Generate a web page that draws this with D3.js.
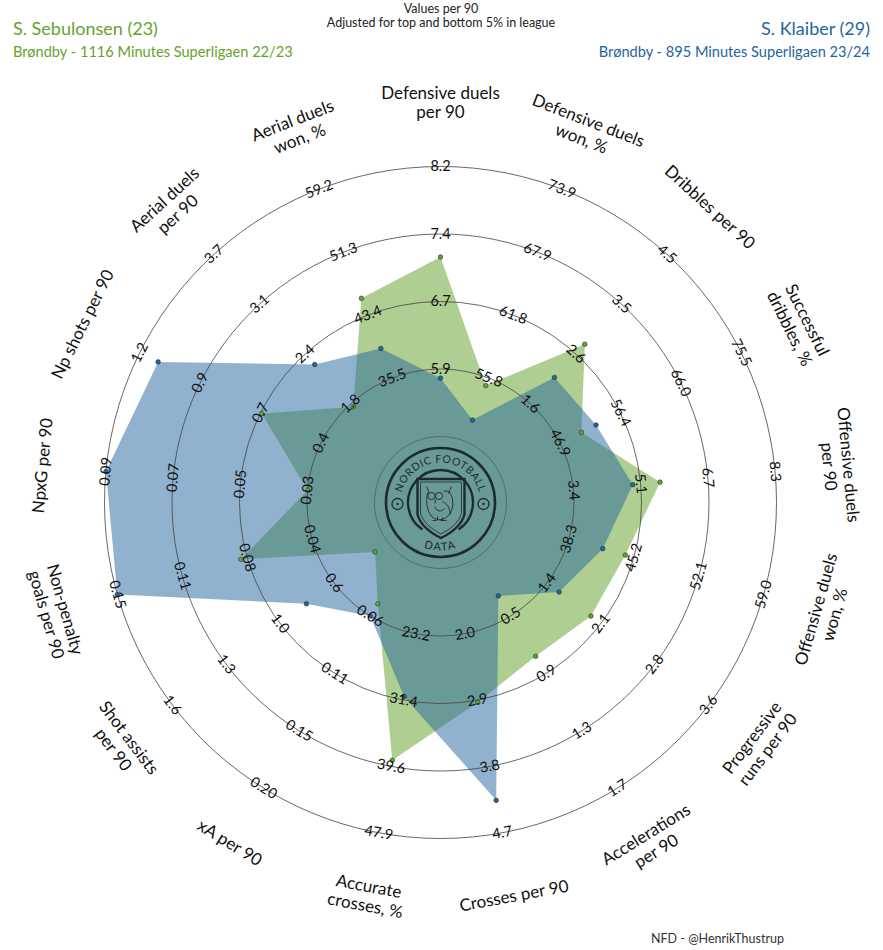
<!DOCTYPE html>
<html>
<head>
<meta charset="utf-8">
<script src="https://cdn.jsdelivr.net/npm/d3@7"></script>
<style>
  body { margin: 0; background: #fff; }
  svg { display: block; font-family: Lato, "Open Sans", sans-serif; }
</style>
</head>
<body>
<div id="chart"></div>
<script>
// chart size
const w = 883;
const h = 950;
const cx = 440.5;
const cy = 502.5;
const rInner = 66;
const rOuter = 336;
const rLabel = 400;

// parameters, clockwise from the top
const params = [
  'Defensive duels\nper 90', 'Defensive duels\nwon, %', 'Dribbles per 90', 'Successful\ndribbles, %',
  'Offensive duels\nper 90', 'Offensive duels\nwon, %', 'Progressive\nruns per 90', 'Accelerations\nper 90',
  'Crosses per 90', 'Accurate\ncrosses, %', 'xA per 90', 'Shot assists\nper 90',
  'Non-penalty\ngoals per 90', 'NpxG per 90', 'Np shots per 90', 'Aerial duels\nper 90', 'Aerial duels\nwon, %'
];
// bottom and top of each axis (5% / 95% in league)
const lows = [5.1, 49.8, 0.6, 37.4, 1.8, 31.4, 0.65, 0.1, 1.1, 14.95, 0.012, 0.28, 0.005, 0.01, 0.15, 1.15, 27.6];
const highs = [8.2, 73.9, 4.5, 75.5, 8.3, 59.0, 3.56, 1.7, 4.7, 47.9, 0.2, 1.63, 0.15, 0.09, 1.2, 3.7, 59.2];
// ring labels for each axis (rings 1..4)
const tickLabels = [
  ['5.9', '6.7', '7.4', '8.2'], ['55.8', '61.8', '67.9', '73.9'], ['1.6', '2.6', '3.5', '4.5'],
  ['46.9', '56.4', '66.0', '75.5'], ['3.4', '5.1', '6.7', '8.3'], ['38.3', '45.2', '52.1', '59.0'],
  ['1.4', '2.1', '2.8', '3.6'], ['0.5', '0.9', '1.3', '1.7'], ['2.0', '2.9', '3.8', '4.7'],
  ['23.2', '31.4', '39.6', '47.9'], ['0.06', '0.11', '0.15', '0.20'], ['0.6', '1.0', '1.3', '1.6'],
  ['0.04', '0.08', '0.11', '0.15'], ['0.03', '0.05', '0.07', '0.09'], ['0.4', '0.7', '0.9', '1.2'],
  ['1.8', '2.4', '3.1', '3.7'], ['35.5', '43.4', '51.3', '59.2']
];
// player values
const sebulonsen = [7.16, 55.1, 2.74, 50.3, 5.52, 44.3, 1.97, 0.78, 2.93, 38.9, 0.049, 0.36, 0.081, 0.03, 0.67, 1.75, 45.5];
const klaiber = [5.77, 51.8, 2.09, 52.6, 4.86, 41.9, 1.54, 0.36, 4.26, 31.0, 0.059, 0.79, 0.15, 0.09, 1.12, 2.29, 39.2];

const green = '#66a22c';
const blue = '#24659f';

const n = params.length;
const angle = i => i * 2 * Math.PI / n;
// one radial scale per axis
const scales = lows.map((lo, i) => d3.scaleLinear().domain([lo, highs[i]]).range([rInner, rOuter]).clamp(true));
const ringScale = d3.scaleLinear().domain([0, 4]).range([rInner, rOuter]);
const px = (r, a) => r * Math.sin(a);
const py = (r, a) => -r * Math.cos(a);
// keep text readable: flip the lower half
const rot = a => {
  const deg = a * 180 / Math.PI;
  return (deg > 90 && deg < 270) ? deg - 180 : deg;
};

const svg = d3.select('#chart').append('svg')
  .attr('width', w)
  .attr('height', h);

// titles
svg.append('text').attr('x', 13).attr('y', 35).attr('fill', green).attr('font-size', 18).text('S. Sebulonsen (23)');
svg.append('text').attr('x', 13).attr('y', 57).attr('fill', green).attr('font-size', 14.6).text('Brøndby - 1116 Minutes Superligaen 22/23');
svg.append('text').attr('x', 870).attr('y', 35).attr('fill', blue).attr('text-anchor', 'end').attr('font-size', 18).text('S. Klaiber (29)');
svg.append('text').attr('x', 870).attr('y', 57).attr('fill', blue).attr('text-anchor', 'end').attr('font-size', 14.6).text('Brøndby - 895 Minutes Superligaen 23/24');
svg.append('text').attr('x', 441).attr('y', 13).attr('text-anchor', 'middle').attr('font-size', 12.5).attr('fill', '#222').text('Values per 90');
svg.append('text').attr('x', 441).attr('y', 27).attr('text-anchor', 'middle').attr('font-size', 12.5).attr('fill', '#222').text('Adjusted for top and bottom 5% in league');
svg.append('text').attr('x', 651).attr('y', 943).attr('font-size', 12.5).attr('fill', '#333').text('NFD - @HenrikThustrup');

const g = svg.append('g').attr('transform', 'translate(' + cx + ',' + cy + ')');

// polygons
const radarLine = values => d3.lineRadial()
  .angle((d, i) => angle(i))
  .radius((d, i) => scales[i](d))
  .curve(d3.curveLinearClosed)(values);

g.append('path').attr('d', radarLine(sebulonsen)).attr('fill', green).attr('fill-opacity', 0.52);
g.append('path').attr('d', radarLine(klaiber)).attr('fill', blue).attr('fill-opacity', 0.5);

// rings
g.selectAll('circle.ring').data(d3.range(0, 5)).enter().append('circle')
  .attr('class', 'ring')
  .attr('r', d => ringScale(d))
  .attr('fill', 'none')
  .attr('stroke', '#444')
  .attr('stroke-opacity', d => d === 0 ? 0.6 : 0.9)
  .attr('stroke-width', 0.9);

// dots
[[sebulonsen, green], [klaiber, blue]].forEach(([vals, col]) => {
  g.selectAll(null).data(vals).enter().append('circle')
    .attr('cx', (d, i) => px(scales[i](d), angle(i)))
    .attr('cy', (d, i) => py(scales[i](d), angle(i)))
    .attr('r', 2.3)
    .attr('fill', col)
    .attr('stroke', '#233')
    .attr('stroke-width', 0.6);
});

// ring labels
tickLabels.forEach((labels, i) => {
  const a = angle(i);
  labels.forEach((lab, k) => {
    const r = ringScale(k + 1);
    g.append('text')
      .attr('transform', 'translate(' + px(r, a) + ',' + py(r, a) + ') rotate(' + rot(a) + ')')
      .attr('text-anchor', 'middle')
      .attr('dy', '0.32em')
      .attr('font-size', 14.5)
      .attr('fill', '#111')
      .text(lab);
  });
});

// parameter labels
params.forEach((p, i) => {
  const a = angle(i);
  const lines = p.split('\n');
  const t = g.append('text')
    .attr('transform', 'translate(' + px(rLabel, a) + ',' + py(rLabel, a) + ') rotate(' + rot(a) + ')')
    .attr('text-anchor', 'middle')
    .attr('font-size', 17)
    .attr('fill', '#111');
  lines.forEach((l, j) => {
    t.append('tspan')
      .attr('x', 0)
      .attr('y', (j - (lines.length - 1) / 2) * 19.5)
      .attr('dy', '0.35em')
      .text(l);
  });
});

// logo in the middle
const logo = g.append('g').attr('fill', 'none').attr('stroke', '#1d2b2b');
logo.append('circle').attr('r', 54.5).attr('stroke-width', 2.6);
logo.append('path')
  .attr('d', d3.arc()({ innerRadius: 32.5, outerRadius: 32.5, startAngle: -2.55, endAngle: 2.55 }))
  .attr('stroke-width', 2.4);
const defs = svg.append('defs');
defs.append('path').attr('id', 'topArc').attr('d', 'M -40 0 A 40 40 0 0 1 40 0');
defs.append('path').attr('id', 'botArc').attr('d', 'M -48 0 A 48 48 0 0 0 48 0');
g.append('text').attr('font-size', 10.5).attr('letter-spacing', 0.6).attr('fill', '#1d2b2b')
  .append('textPath').attr('href', '#topArc').attr('startOffset', '50%').attr('text-anchor', 'middle')
  .text('NORDIC FOOTBALL');
g.append('text').attr('font-size', 11).attr('letter-spacing', 1.5).attr('fill', '#1d2b2b')
  .append('textPath').attr('href', '#botArc').attr('startOffset', '50%').attr('text-anchor', 'middle')
  .text('DATA');
// little balls
[-43, 43].forEach(x => {
  logo.append('circle').attr('cx', x).attr('cy', 1.5).attr('r', 5.5).attr('stroke-width', 1.3);
  logo.append('circle').attr('cx', x).attr('cy', 1.5).attr('r', 1.2).attr('fill', '#1d2b2b').attr('stroke', 'none');
});
// shield
logo.append('path')
  .attr('d', 'M -23 -23.5 L 24 -23.5 L 24 12 Q 20 26 0.5 35.5 Q -19 26 -23 12 Z')
  .attr('stroke-width', 2.4);
logo.append('path')
  .attr('d', 'M -20 -20.5 L 21 -20.5 L 21 11 Q 17.5 23 0.5 31.5 Q -16.5 23 -20 11 Z')
  .attr('stroke-width', 0.8);
// owl
const owl = logo.append('g').attr('stroke-width', 0.9);
owl.append('path').attr('d', 'M -14 -16 L -11 -9 M 11 -16 L 8 -9');
owl.append('circle').attr('cx', -9).attr('cy', -6.5).attr('r', 3.6);
owl.append('circle').attr('cx', -1.5).attr('cy', -6.5).attr('r', 3.6);
owl.append('path').attr('d', 'M -13 -10 Q -16 4 -9 14 Q -2 20 6 15 Q 14 8 12 -4 Q 9 -14 3 -11');
owl.append('path').attr('d', 'M -5 -3 L -5.5 1 M -6 4 Q -2 12 4 6 M 2 -1 Q 9 2 10 12');
owl.append('path').attr('d', 'M -8 18 L -4 18 M 0 18 L 6 18 M -3 14 L -3 18 M 2 15 L 2 18');
</script>
</body>
</html>
